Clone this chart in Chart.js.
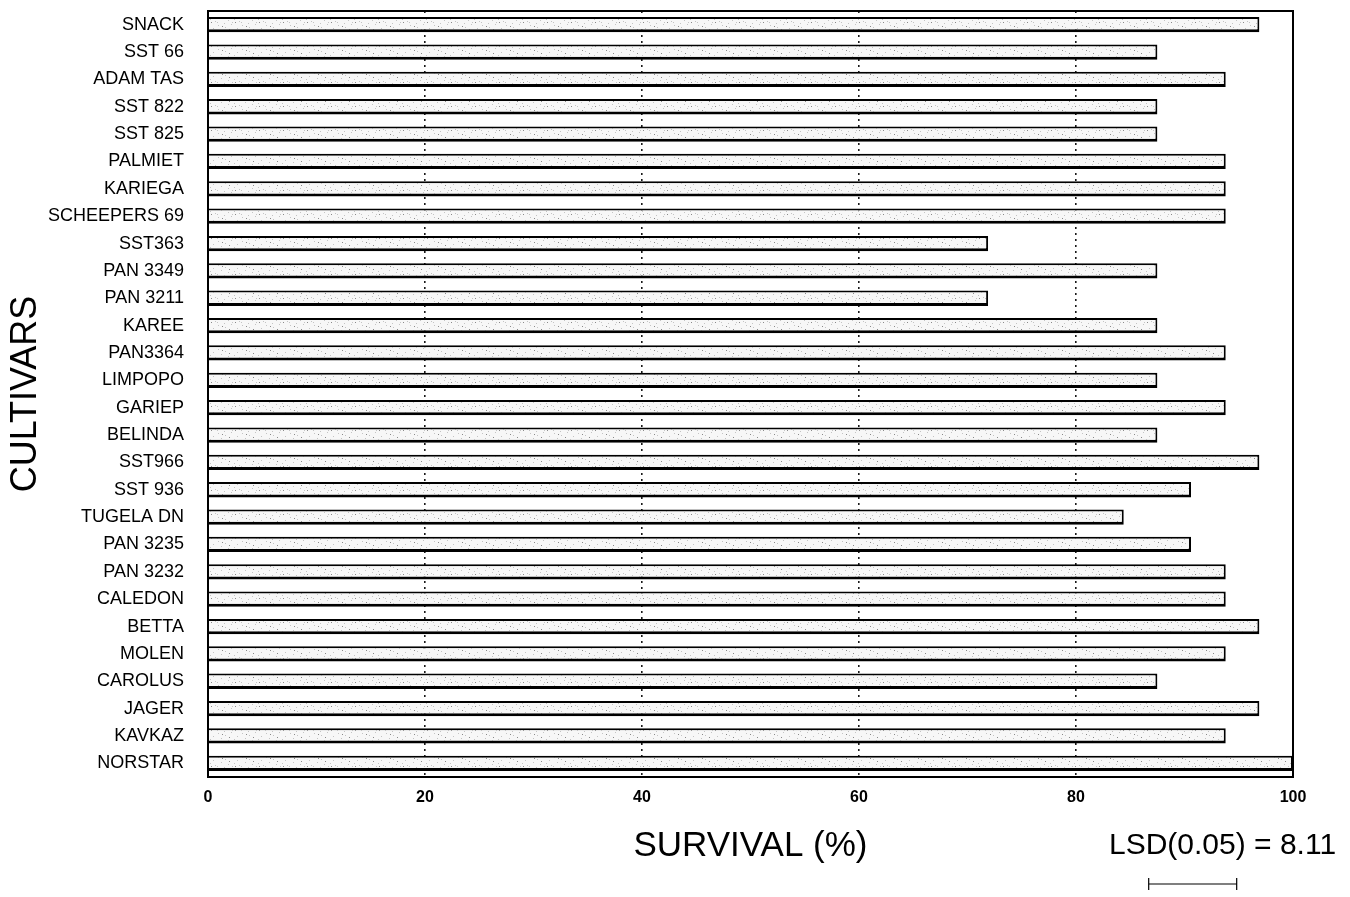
<!DOCTYPE html>
<html>
<head>
<meta charset="utf-8">
<title>Survival by cultivar</title>
<script src="https://cdn.jsdelivr.net/npm/chart.js@4/dist/chart.umd.min.js"></script>
<style>
  html, body { margin: 0; padding: 0; background: #fff; }
  #wrap { width: 1350px; height: 897px; }
</style>
</head>
<body>
<div id="wrap"><canvas id="grafico" width="1350" height="897"></canvas></div>
<script>
// Cultivars, top to bottom
const CULTIVARES = [
  "SNACK", "SST 66", "ADAM TAS", "SST 822", "SST 825", "PALMIET", "KARIEGA",
  "SCHEEPERS 69", "SST363", "PAN 3349", "PAN 3211", "KAREE", "PAN3364", "LIMPOPO",
  "GARIEP", "BELINDA", "SST966", "SST 936", "TUGELA DN", "PAN 3235", "PAN 3232",
  "CALEDON", "BETTA", "MOLEN", "CAROLUS", "JAGER", "KAVKAZ", "NORSTAR"
];

// Survival (%)
const SUPERVIVENCIA = [
  96.9, 87.5, 93.8, 87.5, 87.5, 93.8, 93.8,
  93.8, 71.9, 87.5, 71.9, 87.5, 93.8, 87.5,
  93.8, 87.5, 96.9, 90.6, 84.4, 90.6, 93.8,
  93.8, 96.9, 93.8, 87.5, 96.9, 93.8, 100
];

const X_TICKS = [0, 20, 40, 60, 80, 100];
const LSD = 8.11;
const LSD_INICIO = 86.7;

const FONT_FAMILY = "'Liberation Sans', Arial, Helvetica, sans-serif";

// light stipple used as bar fill (fixed dot layout)
function patronPunteado() {
  const c = document.createElement("canvas");
  c.width = 24; c.height = 12;
  const g = c.getContext("2d");
  g.fillStyle = "#f7f7f7";
  g.fillRect(0, 0, 24, 12);
  g.fillStyle = "#c4c4c4";
  [[2, 1], [9, 3], [15, 0], [21, 4], [5, 6], [12, 8], [18, 7], [1, 10], [8, 11], [23, 9], [16, 10]].forEach(([x, y]) => g.fillRect(x, y, 1, 1));
  g.fillStyle = "#8a8a8a";
  [[6, 2], [19, 10], [13, 5]].forEach(([x, y]) => g.fillRect(x, y, 1, 1));
  return g.createPattern(c, "repeat");
}

// frame round the plot area + LSD label and bar
const marcoYLsd = {
  id: "marcoYLsd",
  afterDatasetsDraw(chart) {
    const { ctx, chartArea: a, scales } = chart;
    ctx.save();
    ctx.strokeStyle = "#000";
    ctx.lineWidth = 2;
    ctx.strokeRect(a.left, a.top, a.right - a.left, a.bottom - a.top);

    ctx.fillStyle = "#000";
    ctx.font = "30px " + FONT_FAMILY;
    ctx.textAlign = "left";
    ctx.textBaseline = "middle";
    ctx.fillText("LSD(0.05) = " + LSD.toFixed(2), 1109, 846);

    const x0 = scales.x.getPixelForValue(LSD_INICIO);
    const x1 = scales.x.getPixelForValue(LSD_INICIO + LSD);
    const y = 884;
    ctx.lineWidth = 1.2;
    ctx.beginPath();
    ctx.moveTo(x0, y); ctx.lineTo(x1, y);
    ctx.moveTo(x0, y - 6); ctx.lineTo(x0, y + 6);
    ctx.moveTo(x1, y - 6); ctx.lineTo(x1, y + 6);
    ctx.stroke();
    ctx.restore();
  }
};

const ctx = document.getElementById("grafico").getContext("2d");
new Chart(ctx, {
  type: "bar",
  data: {
    labels: CULTIVARES,
    datasets: [{
      data: SUPERVIVENCIA,
      backgroundColor: patronPunteado(),
      borderColor: "#000",
      borderWidth: { top: 2, right: 2, bottom: 3, left: 2 },
      borderSkipped: "start",
      categoryPercentage: 1,
      barPercentage: 0.56
    }]
  },
  options: {
    indexAxis: "y",
    responsive: false,
    animation: false,
    layout: { padding: { top: 11, right: 57, left: 0, bottom: 0 } },
    plugins: { legend: { display: false }, tooltip: { enabled: false } },
    scales: {
      x: {
        type: "linear",
        min: 0,
        max: 100,
        afterBuildTicks: (s) => { s.ticks = X_TICKS.map(v => ({ value: v })); },
        afterFit: (s) => { s.height = 120; },
        ticks: { padding: 11, color: "#000", font: { family: FONT_FAMILY, size: 16, weight: "bold" } },
        grid: {
          drawTicks: false,
          lineWidth: 1.6,
          color: (c) => (c.tick && (c.tick.value === 0 || c.tick.value === 100)) ? "rgba(0,0,0,0)" : "#1a1a1a"
        },
        border: { display: false, dash: [2, 4] },
        title: {
          display: true,
          text: "SURVIVAL (%)",
          color: "#000",
          font: { family: FONT_FAMILY, size: 35 },
          padding: { top: 0, bottom: 30 }
        }
      },
      y: {
        afterFit: (s) => { s.width = 208; s.paddingTop = 0; s.paddingBottom = 0; },
        ticks: { padding: 16, color: "#000", font: { family: FONT_FAMILY, size: 18 } },
        grid: { display: false },
        border: { display: false },
        title: {
          display: true,
          text: "CULTIVARS",
          color: "#000",
          font: { family: FONT_FAMILY, size: 36 },
          padding: { top: 4, bottom: 0 }
        }
      }
    }
  },
  plugins: [marcoYLsd]
});
</script>
</body>
</html>
